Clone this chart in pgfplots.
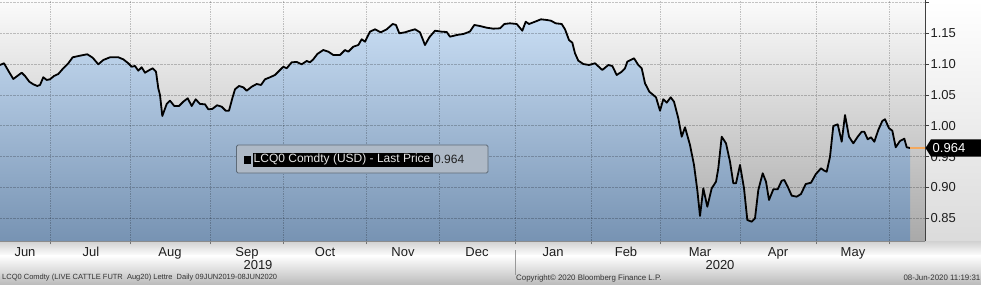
\documentclass[border=0pt]{standalone}
\usepackage{fontspec}
\setmainfont{Liberation Sans}
\usepackage{pgfplots}
\pgfplotsset{compat=1.18}
\usepackage{pgfplotstable}

\definecolor{bgtop}{HTML}{FBFBFB}
\definecolor{bgbot}{HTML}{A9A9A9}
\definecolor{bluetop}{HTML}{C8DDF3}
\definecolor{bluebot}{HTML}{7793B3}
\definecolor{orangeline}{HTML}{F4A95E}
\definecolor{legbg}{HTML}{AEB9C6}
\definecolor{legborder}{HTML}{5E6B78}
\definecolor{txt}{HTML}{1E1E1E}

\pgfplotstableread{
x v
0 1.0986
4 1.1014
8.3 1.0894
13.3 1.0759
17.3 1.0808
21.7 1.0861
25 1.0808
29.3 1.0715
33.3 1.0673
37.3 1.0646
40 1.0662
43.3 1.0787
46.7 1.0743
50 1.0754
54 1.0808
58.3 1.0840
63.3 1.0933
68.3 1.1014
72.7 1.1111
80 1.1137
87.3 1.1160
92.7 1.1104
98.3 1.0997
103.3 1.1067
110 1.1111
118.3 1.1111
123.3 1.1078
128.3 1.1014
131.7 1.0958
135 1.0970
138.3 1.0894
141.7 1.0949
145 1.0861
148.3 1.0894
152.7 1.0933
156 1.0877
158.3 1.0608
160 1.0500
162.3 1.0159
166.7 1.0354
170 1.0407
174.3 1.0321
179 1.0321
183.3 1.0391
187.7 1.0446
191.7 1.0321
195.7 1.0430
200 1.0354
205 1.0349
208.3 1.0268
212.3 1.0273
217 1.0333
221.7 1.0310
225.7 1.0245
229 1.0245
232.3 1.0446
235 1.0592
239 1.0646
243.3 1.0624
246.7 1.0569
251.7 1.0634
256.7 1.0678
261 1.0662
265 1.0754
270 1.0787
275 1.0824
280 1.0905
283.3 1.0958
286.7 1.0933
291.7 1.1030
296.7 1.1035
301.7 1.0997
306.7 1.1051
310 1.1030
313.3 1.1078
317.3 1.1164
323.3 1.1229
328.3 1.1202
333.3 1.1148
340 1.1148
345 1.1229
348.3 1.1202
353.3 1.1283
358.3 1.1310
361.7 1.1403
365 1.1364
370 1.1526
375 1.1565
380.7 1.1516
386.7 1.1565
392.7 1.1651
396 1.1635
399.3 1.1500
405 1.1516
410 1.1542
415 1.1565
420 1.1516
425 1.1310
429.3 1.1435
435 1.1542
441.7 1.1526
446.7 1.1521
450 1.1445
456.7 1.1472
463.3 1.1489
467 1.1510
470 1.1530
474.3 1.1635
480 1.1618
486.7 1.1591
493.3 1.1575
500 1.1581
504.3 1.1651
510 1.1662
516.7 1.1651
522.3 1.1542
525.7 1.1688
529 1.1651
535 1.1688
541 1.1727
546.7 1.1716
551 1.1704
555.7 1.1662
561.7 1.1651
565 1.1565
569 1.1391
572.3 1.1348
575 1.1176
578.3 1.1056
583.3 1.1002
589 1.0986
595 1.1014
602.3 1.0905
608.3 1.0986
612.3 1.0970
616.7 1.0824
621.7 1.0877
625 1.0933
627.3 1.1040
634 1.1095
638.3 1.0986
641.7 1.0933
645 1.0689
649.3 1.0553
653.3 1.0500
656 1.0462
660 1.0245
663.3 1.0430
666.7 1.0375
670.7 1.0462
674 1.0391
678.3 1.0122
681.7 0.9823
685 0.9976
690 0.9689
694 0.9365
697.3 0.8959
700 0.8538
703.3 0.8987
707.3 0.8688
711.7 0.8987
716 0.9094
718.3 0.9311
721.7 0.9823
726 0.9716
730 0.9418
733.3 0.9068
736 0.9068
740 0.9365
744 0.8987
747.3 0.8473
751.7 0.8445
755 0.8500
758.3 0.8959
762.7 0.9230
766 0.9094
769 0.8797
773.3 0.8970
777.7 0.8970
781.7 0.9110
784.3 0.9121
787.7 0.9013
791.7 0.8867
796.7 0.8851
801 0.8894
805.7 0.9056
811 0.9077
815.7 0.9214
821 0.9311
824.3 0.9272
826.7 0.9256
830 0.9499
833.3 0.9997
837.7 1.0024
841.7 0.9742
845 1.0175
849 0.9823
853.3 0.9716
857.7 0.9823
861.7 0.9904
864.3 0.9904
867.7 0.9781
871 0.9814
874.3 0.9742
878.3 0.9932
882.3 1.0078
885 1.0106
889 0.9960
892.3 0.9921
895.7 0.9652
900 0.9754
904.3 0.9791
906.7 0.9652
910 0.9640
}\lcq

\begin{document}
\begin{tikzpicture}
\useasboundingbox (0pt,0pt) rectangle (981pt,284pt);
% backgrounds
\shade[top color=white, bottom color=white!86!black] (0pt,43pt) rectangle (981pt,284pt);
\shade[top color=white!82!black, bottom color=white] (0pt,28pt) rectangle (981pt,43pt);
\shade[top color=white, bottom color=white!74!black] (0pt,0pt) rectangle (981pt,28.5pt);

\begin{axis}[
  at={(0pt,43pt)}, anchor=south west,
  width=925pt, height=241pt, scale only axis,
  xmin=0, xmax=925, ymin=0.8132, ymax=1.2040,
  axis background/.style={shade, top color=bgtop, bottom color=bgbot},
  axis on top,
  axis x line*=bottom, axis y line*=right,
  x axis line style={draw=black!45, line width=0.6pt},
  y axis line style={draw=black!75, line width=0.8pt},
  tick align=outside,
  xtick={25,91,170,247,325,403,477,553,626,700,778,853},
  xticklabels={Jun,Jul,Aug,Sep,Oct,Nov,Dec,Jan,Feb,Mar,Apr,May},
  minor xtick={50.7,130.7,210.5,283,366.7,439,515,591.7,660.7,740,816.7,889.3},
  major x tick style={draw=none},
  minor x tick style={draw=black!55, line width=0.6pt},
  minor tick length=3pt,
  xminorgrids=true, xmajorgrids=false,
  ytick={0.85,0.90,0.95,1.00,1.05,1.10,1.15,1.20},
  yticklabels={0.85,0.90,0.95,1.00,1.05,1.10,1.15,{}},
  ymajorgrids=true,
  major y tick style={draw=black!75, line width=0.8pt},
  major tick length=4pt,
  grid style={densely dotted, black, opacity=0.22, line width=0.7pt},
  minor grid style={densely dotted, black, opacity=0.22, line width=0.7pt},
  /pgf/number format/assume math mode=true,
  ticklabel style={font=\fontsize{13}{15}\selectfont, text=txt},
  yticklabel style={xshift=-2pt},
  xticklabel style={yshift=1pt},
]
\addplot[draw=none, shade, top color=bluetop, bottom color=bluebot] table[x=x,y=v]{\lcq} \closedcycle;
\addplot[black, line width=1.8pt, line join=round] table[x=x,y=v]{\lcq};
\addplot[orangeline, line width=1.5pt] coordinates {(910,0.964) (925,0.964)};
\end{axis}

% last-price tag on the right
\fill[black] (925.5pt,136pt) -- (931pt,144.7pt) -- (981pt,144.7pt) -- (981pt,127.3pt) -- (931pt,127.3pt) -- cycle;
\node[anchor=west, inner sep=0pt, text=white, font=\fontsize{13}{15}\selectfont] at (932.5pt,136pt) {0.964};

% legend box
\filldraw[fill=legbg, draw=legborder, line width=0.9pt, rounded corners=1.5pt] (236.5pt,111pt) rectangle (488pt,139pt);
\fill[black] (243.5pt,120.5pt) rectangle (250.5pt,128pt);
\fill[black] (252.7pt,117.3pt) rectangle (432.7pt,131.3pt);
\node[anchor=west, inner sep=0pt, text=white!90!black, font=\fontsize{12}{14}\selectfont] at (253.5pt,124.3pt) {LCQ0 Comdty (USD) - Last Price};
\node[anchor=west, inner sep=0pt, text=txt, font=\fontsize{12}{14}\selectfont] at (434pt,124.3pt) {0.964};

% year labels and separator
\node[text=txt, font=\fontsize{13}{15}\selectfont] at (258pt,19pt) {2019};
\node[text=txt, font=\fontsize{13}{15}\selectfont] at (720pt,19pt) {2020};
\draw[black!40, line width=0.6pt] (515pt,34pt) -- (515pt,9pt);

% footer
\node[anchor=west, inner sep=0pt, text=black!80, font=\fontsize{7.5}{9}\selectfont] at (2pt,6pt) {LCQ0 Comdty (LIVE CATTLE FUTR\ \ Aug20) Lettre\ \ Daily 09JUN2019-08JUN2020};
\node[anchor=west, inner sep=0pt, text=black!80, font=\fontsize{7.9}{9}\selectfont] at (516pt,6pt) {Copyright© 2020 Bloomberg Finance L.P.};
\node[anchor=east, inner sep=0pt, text=black!80, font=\fontsize{7.9}{9}\selectfont] at (980.5pt,6pt) {08-Jun-2020 11:19:31};
\end{tikzpicture}
\end{document}
